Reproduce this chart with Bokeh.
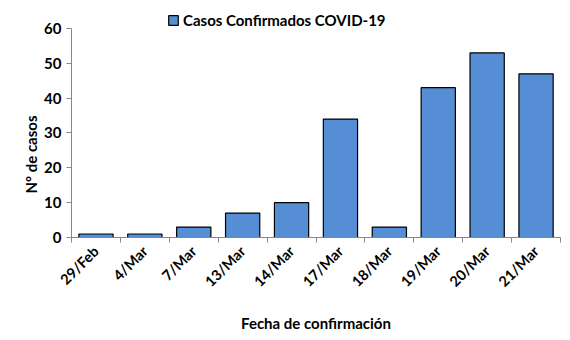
from bokeh.plotting import figure
from bokeh.models import Range1d, FixedTicker, Legend, LegendItem, Title
from bokeh.embed import file_html
from bokeh.resources import INLINE
import math

dates = ["29/Feb", "4/Mar", "7/Mar", "13/Mar", "14/Mar", "17/Mar", "18/Mar", "19/Mar", "20/Mar", "21/Mar"]
cases = [1, 1, 3, 7, 10, 34, 3, 43, 53, 47]
series_name = "Casos Confirmados COVID-19"
y_ticks = [0, 10, 20, 30, 40, 50, 60]
x_title = "Fecha de confirmación"
y_title = "Nº de casos"

FONT = "Lato"
n = len(dates)
xs = [i + 0.5 for i in range(n)]

# frame spans canvas y 5..237; value 60 sits at y~27 (3.48 px per unit)
p = figure(width=570, height=340, output_backend="svg", toolbar_location=None,
           x_range=Range1d(0, n), y_range=Range1d(0, 66.6),
           min_border_left=71, min_border_right=10, min_border_top=5, min_border_bottom=103)
p.outline_line_color = None
p.grid.grid_line_color = None
p.background_fill_color = "white"

r = p.vbar(x=xs, top=cases, width=0.7, fill_color="#558ED5", line_color="black", line_width=1.2)

# x axis
xa = p.xaxis[0]
xa.ticker = FixedTicker(ticks=xs, minor_ticks=list(range(n + 1)))
xa.major_label_overrides = {x: d for x, d in zip(xs, dates)}
xa.major_label_orientation = math.pi / 4
xa.major_tick_line_color = None
xa.minor_tick_line_color = "#868686"
xa.minor_tick_out = 5
xa.minor_tick_in = 0
xa.axis_line_color = "#868686"
xa.major_label_text_font = FONT
xa.major_label_text_font_style = "bold"
xa.major_label_text_font_size = "14.5px"
xa.major_label_text_color = "black"
xa.axis_label = x_title
xa.axis_label_text_font = FONT
xa.axis_label_text_font_style = "bold"
xa.axis_label_text_font_size = "15px"
xa.axis_label_text_color = "black"
xa.axis_label_standoff = 15

# y axis
ya = p.yaxis[0]
ya.ticker = FixedTicker(ticks=y_ticks)
ya.bounds = (0, 60)
ya.minor_tick_line_color = None
ya.major_tick_line_color = "#868686"
ya.major_tick_out = 5
ya.major_tick_in = 0
ya.axis_line_color = "#868686"
ya.major_label_text_font = FONT
ya.major_label_text_font_style = "bold"
ya.major_label_text_font_size = "15px"
ya.major_label_text_color = "black"

ytitle = Title(text=y_title, align="left", offset=44, standoff=4,
               text_font=FONT, text_font_style="bold", text_font_size="15px",
               text_color="black")
p.add_layout(ytitle, "left")

legend = Legend(items=[LegendItem(label=series_name, renderers=[r])],
                location=(96, 208), border_line_color=None, background_fill_alpha=0,
                label_text_font=FONT, label_text_font_style="bold", label_text_font_size="15px",
                label_text_color="black",
                glyph_width=12, glyph_height=12, padding=2, margin=0, label_standoff=4)
p.add_layout(legend, "center")

open("out.html", "w").write(file_html(p, INLINE))
